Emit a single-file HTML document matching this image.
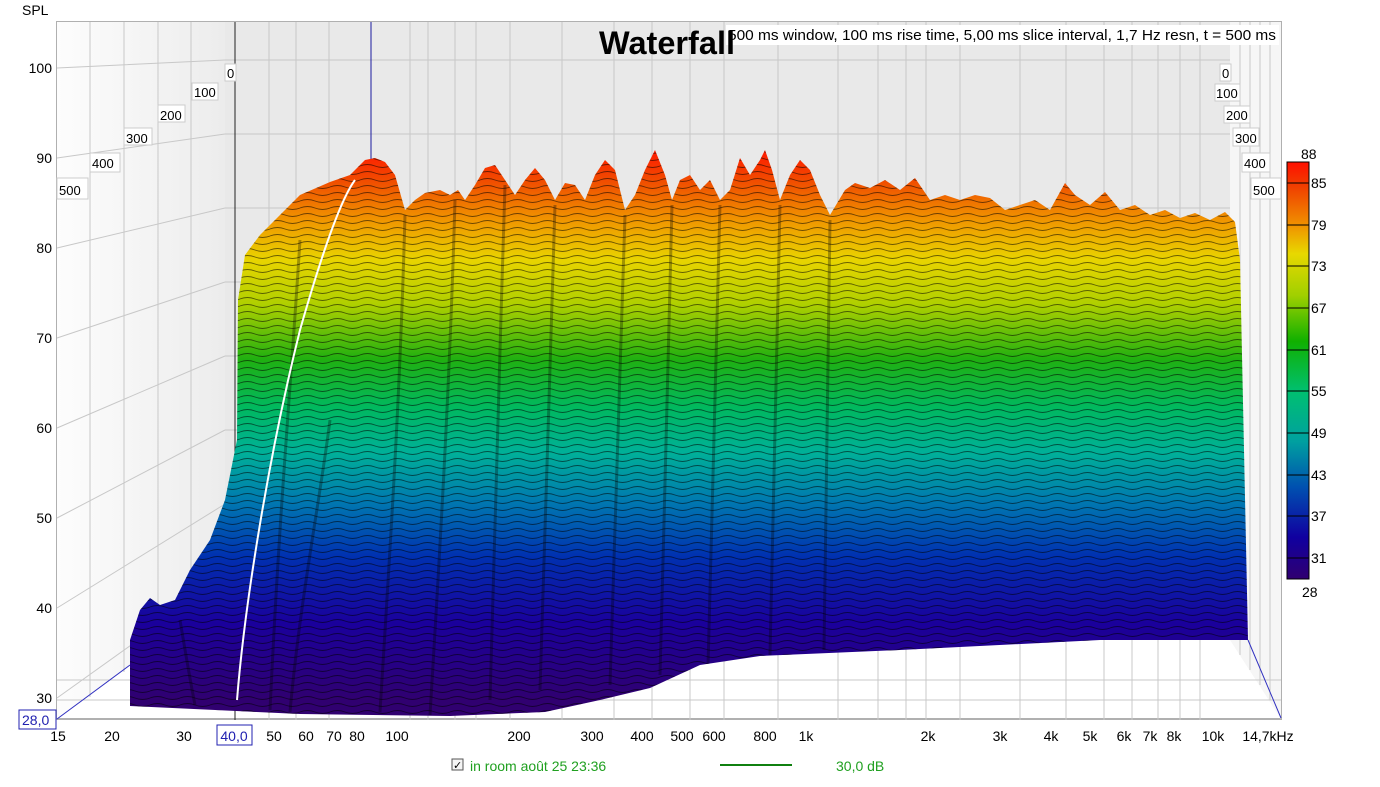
<!DOCTYPE html>
<html><head><meta charset="utf-8"><style>
body{margin:0;background:#fff;width:1380px;height:782px;overflow:hidden;font-family:"Liberation Sans",sans-serif}
</style></head><body>
<svg width="1380" height="782" viewBox="0 0 1380 782" xmlns="http://www.w3.org/2000/svg" font-family="Liberation Sans, sans-serif">
<defs>
<linearGradient id="side" x1="0" x2="1" y1="0" y2="0"><stop offset="0" stop-color="#fdfdfd"/><stop offset="1" stop-color="#ececec"/></linearGradient>
<linearGradient id="surf" gradientUnits="userSpaceOnUse" x1="0" y1="150" x2="0" y2="700">
<stop offset="0" stop-color="#ff1800"/>
<stop offset="0.06" stop-color="#f05000"/>
<stop offset="0.13" stop-color="#f09800"/>
<stop offset="0.2" stop-color="#e8d400"/>
<stop offset="0.28" stop-color="#b0d000"/>
<stop offset="0.38" stop-color="#20b010"/>
<stop offset="0.47" stop-color="#00b860"/>
<stop offset="0.55" stop-color="#00b098"/>
<stop offset="0.64" stop-color="#0078b0"/>
<stop offset="0.74" stop-color="#0030b0"/>
<stop offset="0.86" stop-color="#1a009c"/>
<stop offset="1" stop-color="#300070"/>
</linearGradient>
<linearGradient id="cb" x1="0" y1="0" x2="0" y2="1">
<stop offset="0" stop-color="#ff1000"/><stop offset="0.06" stop-color="#f04000"/><stop offset="0.15" stop-color="#f09000"/><stop offset="0.22" stop-color="#e8d800"/><stop offset="0.32" stop-color="#a0d000"/><stop offset="0.43" stop-color="#10b000"/><stop offset="0.55" stop-color="#00c070"/><stop offset="0.67" stop-color="#00a0a0"/><stop offset="0.78" stop-color="#0050b0"/><stop offset="0.9" stop-color="#1000a0"/><stop offset="1" stop-color="#300070"/>
</linearGradient>
<pattern id="lines" width="30" height="7" patternUnits="userSpaceOnUse"><path d="M0,5 Q7.5,2 15,5 T30,5" stroke="#000" stroke-opacity="0.55" stroke-width="0.9" fill="none"/></pattern>
</defs>
<rect x="57" y="22" width="1224" height="697" fill="#fff" stroke="#b0b0b0" stroke-width="2"/>
<polygon points="57,22 225,22 225,593 57,719" fill="url(#side)"/>
<polygon points="225,22 1230,22 1230,640 225,593" fill="#e9e9e9"/>
<polygon points="1230,22 1281,22 1281,719 1230,640" fill="#f6f6f6"/>
<g stroke="#c8c8c8" stroke-width="1" fill="none">
<path d="M225,60H1230M225,134H1230M225,208H1230M225,282H1230M225,356H1230M225,430H1230M225,504H1230M225,578H1230"/>
<path d="M57,68L225,60M57,158L225,134M57,248L225,208M57,338L225,282M57,428L225,356M57,518L225,430M57,608L225,504M57,698L225,578"/>
<path d="M90,22V697M124,22V672M158,22V646M191,22V620M1240,22V655M1250,22V670M1260,22V685M1270,22V700"/>
<path d="M269,22V720M296,22V720M329,22V720M410,22V720M428,22V720M455,22V720M476,22V720M510,22V720M562,22V720M614,22V720M652,22V720M690,22V720M724,22V720M778,22V720M838,22V720M878,22V720M906,22V720M926,22V720M960,22V720M1020,22V720M1066,22V720M1104,22V720M1132,22V720M1158,22V720M1180,22V720M1200,22V720"/>
<path d="M57,680H1281M57,700H1281"/>
</g>
<line x1="235" y1="22" x2="235" y2="720" stroke="#222" stroke-width="1"/>
<line x1="371" y1="22" x2="371" y2="200" stroke="#1a1aa0" stroke-width="1"/>
<line x1="57" y1="719" x2="130" y2="665" stroke="#3030c0"/>
<line x1="1248" y1="640" x2="1281" y2="718" stroke="#3030c0"/>
<g>
<path id="surface" fill="url(#surf)" d="M130,705 L130,640 L140,610 L150,598 L160,605 L175,600 L190,570 L210,540 L225,500 L232,465 L237,440 L238,300 L245,255 L260,235 L280,215 L300,195 L330,182 L350,175 L365,160 L375,158 L385,162 L395,175 L405,210 L415,200 L425,193 L440,190 L450,195 L458,190 L465,200 L475,185 L485,168 L495,165 L505,180 L515,195 L525,180 L535,168 L545,180 L555,200 L565,183 L575,185 L585,200 L595,175 L605,160 L615,170 L625,210 L635,195 L645,170 L655,150 L665,175 L672,200 L680,180 L690,175 L700,190 L710,180 L720,200 L730,190 L740,158 L750,175 L760,160 L765,150 L772,170 L780,200 L790,175 L800,160 L810,170 L820,195 L830,215 L845,190 L855,183 L870,188 L885,180 L900,190 L915,178 L930,200 L945,195 L960,200 L975,195 L990,198 L1005,210 L1020,205 L1035,200 L1050,210 L1065,183 L1075,195 L1090,205 L1105,192 L1120,210 L1135,205 L1150,215 L1165,210 L1180,218 L1195,213 L1210,220 L1225,212 L1235,222 L1240,260 L1248,640 L1100,640 L900,650 L760,656 L700,665 L650,688 L600,700 L545,712 L450,716 L300,714 L130,706 Z"/>
<clipPath id="clipS"><use href="#surface"/></clipPath>
<g clip-path="url(#clipS)">
<rect x="120" y="140" width="1140" height="590" fill="url(#lines)"/>
<g stroke="#000" stroke-opacity="0.3" stroke-width="3" fill="none">
<path d="M300,240 C290,400 280,500 270,710"/><path d="M405,215 C400,400 390,550 380,712"/><path d="M455,200 C450,380 440,550 430,715"/>
<path d="M505,185 C500,350 495,500 490,700"/><path d="M555,205 C550,380 545,520 540,690"/><path d="M625,215 C620,380 615,520 610,685"/>
<path d="M672,205 C668,380 664,520 660,675"/><path d="M720,205 C716,380 712,520 708,665"/><path d="M780,205 C777,380 774,520 770,655"/><path d="M830,220 C828,380 826,520 824,650"/>
<path d="M330,420 C320,500 300,600 290,712"/><path d="M180,620 C185,650 190,680 195,705"/>
</g>
</g>
<path d="M237,700 C245,600 270,450 300,330 C320,260 340,200 355,180" stroke="#fff" stroke-width="2" fill="none"/>
</g>
<g font-size="14" fill="#000" text-anchor="end">
<text x="52" y="73">100</text><text x="52" y="163">90</text><text x="52" y="253">80</text><text x="52" y="343">70</text><text x="52" y="433">60</text><text x="52" y="523">50</text><text x="52" y="613">40</text><text x="52" y="703">30</text>
</g>
<text x="22" y="15" font-size="14">SPL</text>
<rect x="19" y="710" width="37" height="19" fill="#fff" stroke="#2020b0"/><text x="22" y="725" font-size="14" fill="#2020b0">28,0</text>
<g font-size="14" fill="#000" text-anchor="middle">
<text x="58" y="741">15</text><text x="112" y="741">20</text><text x="184" y="741">30</text><text x="274" y="741">50</text><text x="306" y="741">60</text><text x="334" y="741">70</text><text x="357" y="741">80</text><text x="397" y="741">100</text><text x="519" y="741">200</text><text x="592" y="741">300</text><text x="642" y="741">400</text><text x="682" y="741">500</text><text x="714" y="741">600</text><text x="765" y="741">800</text><text x="806" y="741">1k</text><text x="928" y="741">2k</text><text x="1000" y="741">3k</text><text x="1051" y="741">4k</text><text x="1090" y="741">5k</text><text x="1124" y="741">6k</text><text x="1150" y="741">7k</text><text x="1174" y="741">8k</text><text x="1213" y="741">10k</text><text x="1268" y="741">14,7kHz</text>
</g>
<rect x="217" y="725" width="35" height="20" fill="#fff" stroke="#2020b0"/><text x="234" y="741" font-size="14" fill="#2020b0" text-anchor="middle">40,0</text>
<g font-size="13" fill="#000">
<rect x="225" y="64" width="11" height="17" fill="#fff" stroke="#ccc"/><text x="227" y="78">0</text>
<rect x="192" y="83" width="26" height="17" fill="#fff" stroke="#ccc"/><text x="194" y="97">100</text>
<rect x="158" y="105" width="27" height="17" fill="#fff" stroke="#ccc"/><text x="160" y="120">200</text>
<rect x="124" y="128" width="28" height="17" fill="#fff" stroke="#ccc"/><text x="126" y="143">300</text>
<rect x="90" y="153" width="30" height="19" fill="#fff" stroke="#ccc"/><text x="92" y="168">400</text>
<rect x="57" y="178" width="31" height="21" fill="#fff" stroke="#ccc"/><text x="59" y="195">500</text>
<rect x="1220" y="64" width="11" height="17" fill="#fff" stroke="#ccc"/><text x="1222" y="78">0</text>
<rect x="1215" y="84" width="25" height="17" fill="#fff" stroke="#ccc"/><text x="1216" y="98">100</text>
<rect x="1224" y="106" width="26" height="17" fill="#fff" stroke="#ccc"/><text x="1226" y="120">200</text>
<rect x="1233" y="128" width="26" height="18" fill="#fff" stroke="#ccc"/><text x="1235" y="143">300</text>
<rect x="1242" y="153" width="28" height="19" fill="#fff" stroke="#ccc"/><text x="1244" y="168">400</text>
<rect x="1251" y="178" width="30" height="21" fill="#fff" stroke="#ccc"/><text x="1253" y="195">500</text>
</g>
<rect x="726" y="25" width="553" height="20" fill="#fff"/>
<text x="728" y="40" font-size="15" fill="#000" textLength="548" lengthAdjust="spacingAndGlyphs">500 ms window, 100 ms rise time, 5,00 ms slice interval, 1,7 Hz resn, t = 500 ms</text>
<text x="599" y="54" font-size="32" font-weight="bold" fill="#000" textLength="136" lengthAdjust="spacingAndGlyphs">Waterfall</text>
<rect x="1287" y="162" width="22" height="417" fill="url(#cb)" stroke="#000"/>
<g stroke="#000"><path d="M1287,183H1309M1287,225H1309M1287,266H1309M1287,308H1309M1287,350H1309M1287,391H1309M1287,433H1309M1287,475H1309M1287,516H1309M1287,558H1309"/></g>
<g font-size="14" fill="#000">
<text x="1301" y="159">88</text><text x="1311" y="188">85</text><text x="1311" y="230">79</text><text x="1311" y="271">73</text><text x="1311" y="313">67</text><text x="1311" y="355">61</text><text x="1311" y="396">55</text><text x="1311" y="438">49</text><text x="1311" y="480">43</text><text x="1311" y="521">37</text><text x="1311" y="563">31</text><text x="1302" y="597">28</text>
</g>
<rect x="452" y="759" width="11" height="11" fill="#f4f4f4" stroke="#555"/><text x="453" y="769" font-size="11" fill="#000">✓</text>
<text x="470" y="771" font-size="14" fill="#20a020">in room août 25 23:36</text>
<line x1="720" y1="765" x2="792" y2="765" stroke="#108010" stroke-width="2"/>
<text x="836" y="771" font-size="14" fill="#20a020">30,0 dB</text>
</svg>
</body></html>
